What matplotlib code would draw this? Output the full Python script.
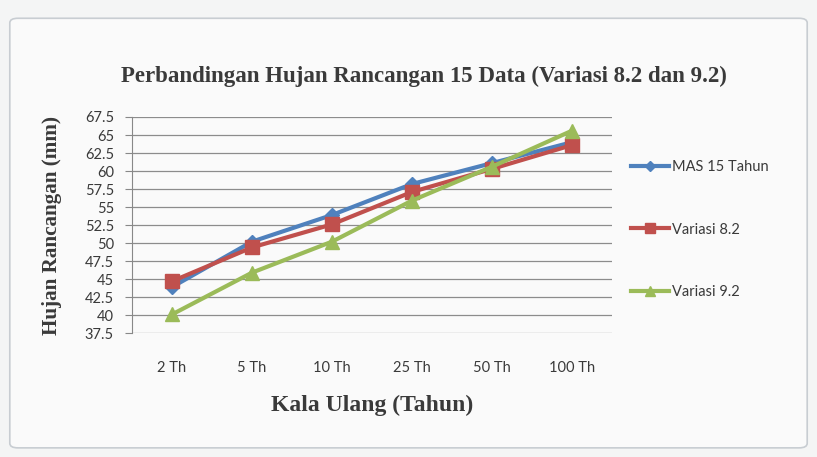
import matplotlib
matplotlib.use("Agg")
import matplotlib.pyplot as plt
from matplotlib.patches import FancyBboxPatch

# data
periods = ["2 Th", "5 Th", "10 Th", "25 Th", "50 Th", "100 Th"]
mas_15 = [43.9, 50.2, 53.9, 58.2, 61.1, 64.0]
variasi_82 = [44.7, 49.4, 52.6, 57.1, 60.3, 63.6]
variasi_92 = [40.1, 45.9, 50.2, 55.9, 60.6, 65.6]
y_ticks = [37.5, 40, 42.5, 45, 47.5, 50, 52.5, 55, 57.5, 60, 62.5, 65, 67.5]

tick_font = "Lato"
serif_font = "Liberation Serif"
text_color = "#3a3a3a"

fig = plt.figure(figsize=(8.17, 4.57), dpi=100)
fig.patch.set_facecolor("#f4f5f5")

# chart frame
frame = FancyBboxPatch((0.012, 0.02), 0.976, 0.94, boxstyle="round,pad=0,rounding_size=0.01",
                       transform=fig.transFigure, facecolor="#fafafa", edgecolor="#c8cdd2",
                       linewidth=1.2, zorder=-1)
fig.patches.append(frame)

ax = fig.add_axes([0.1616, 0.271, 0.5875, 0.473])
ax.set_facecolor("none")

x = list(range(len(periods)))
ax.plot(x, mas_15, color="#4f81bd", marker="D", markersize=7, linewidth=3, label="MAS 15 Tahun", zorder=3)
ax.plot(x, variasi_82, color="#c0504d", marker="s", markersize=10, linewidth=3, label="Variasi 8.2", zorder=4)
ax.plot(x, variasi_92, color="#9bbb59", marker="^", markersize=10, linewidth=3, label="Variasi 9.2", zorder=5)

ax.set_xlim(-0.5, len(periods) - 0.5)
ax.set_ylim(37.5, 67.5)
ax.set_yticks(y_ticks)
ax.set_yticklabels([f"{v:g}" for v in y_ticks], fontfamily=tick_font, fontsize=10.5, color=text_color)
ax.set_xticks(x)
ax.set_xticklabels(periods, fontfamily=tick_font, fontsize=10.5, color=text_color)
ax.tick_params(axis="x", length=0, pad=20)
ax.tick_params(axis="y", length=5, color="#888888", pad=8)
ax.grid(axis="y", color="#8c8c8c", linewidth=0.9)
for side in ["top", "right", "bottom"]:
    ax.spines[side].set_visible(False)
ax.spines["left"].set_color("#888888")

fig.text(0.519, 0.832, "Perbandingan Hujan Rancangan 15 Data (Variasi 8.2 dan 9.2)",
         ha="center", va="center", fontfamily=serif_font, fontweight="bold", fontsize=16.5, color=text_color)
ax.set_xlabel("Kala Ulang (Tahun)", fontfamily=serif_font, fontweight="bold", fontsize=17,
              color=text_color, labelpad=14)
ax.set_ylabel("Hujan Rancangan (mm)", fontfamily=serif_font, fontweight="bold", fontsize=15.2,
              color=text_color, labelpad=16)

leg = ax.legend(loc="upper left", bbox_to_anchor=(1.012, 0.86), frameon=False,
                prop={"family": tick_font, "size": 10.5}, labelspacing=3.3,
                handlelength=2.6, handletextpad=0.2, markerscale=0.7)
for t in leg.get_texts():
    t.set_color(text_color)

fig.savefig("out.png", dpi=100, facecolor=fig.get_facecolor())
